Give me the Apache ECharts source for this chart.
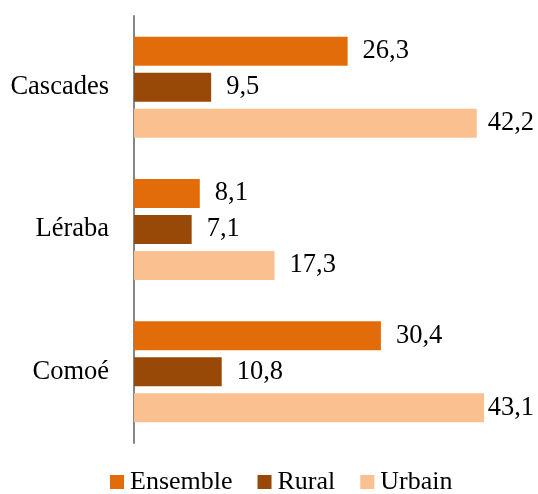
<!DOCTYPE html>
<html>
<head>
<meta charset="utf-8">
<script src="https://cdn.jsdelivr.net/npm/echarts@6/dist/echarts.min.js"></script>
<style>html,body{margin:0;padding:0;background:#fff;}#c{width:538px;height:494px;}</style>
</head>
<body>
<div id="c"></div>
<script>
var categories = ['Cascades', 'Léraba', 'Comoé'];
var seriesNames = ['Ensemble', 'Rural', 'Urbain'];
var ensemble = [26.3, 8.1, 30.4];
var rural = [9.5, 7.1, 10.8];
var urbain = [42.2, 17.3, 43.1];

var colors = ['#E36C0A', '#984807', '#FAC090'];
var font = '"Liberation Serif", "Times New Roman", serif';
var chart = echarts.init(document.getElementById('c'));

function fmt(p) { return String(p.value).replace('.', ','); }

function mk(name, data, color) {
  return {
    name: name, type: 'bar', data: data,
    barWidth: 29, barGap: '24%',
    itemStyle: { color: color },
    label: { show: true, position: 'right', distance: 15, formatter: fmt,
      overflow: 'none', width: 80,
      fontFamily: font, fontSize: 26.5, color: '#000' }
  };
}

chart.setOption({
  animation: false,
  textStyle: { fontFamily: font },
  grid: { left: 134, top: 16, width: 365.5, height: 427 },
  xAxis: { type: 'value', min: 0, max: 45, show: false, splitLine: { show: false } },
  yAxis: {
    type: 'category', data: categories, inverse: true,
    axisLine: { show: true, lineStyle: { color: '#868686', width: 2 } },
    axisTick: { show: false },
    axisLabel: { margin: 25, fontFamily: font, fontSize: 26.5, color: '#000' }
  },
  legend: {
    data: seriesNames, left: 110, top: 469, padding: 0,
    itemWidth: 14, itemHeight: 14, itemGap: 25,
    icon: 'rect',
    textStyle: { fontFamily: font, fontSize: 26, lineHeight: 26, color: '#000', padding: [0,0,0,1] }
  },
  labelLayout: function (p) {
    var r = p.labelRect;
    if (r.x + r.width > 534) {
      return { x: 534 - r.width, y: r.y + r.height / 2, align: 'left', verticalAlign: 'middle' };
    }
    return {};
  },
  series: [
    mk(seriesNames[0], ensemble, colors[0]),
    mk(seriesNames[1], rural, colors[1]),
    mk(seriesNames[2], urbain, colors[2])
  ]
});
</script>
</body>
</html>
